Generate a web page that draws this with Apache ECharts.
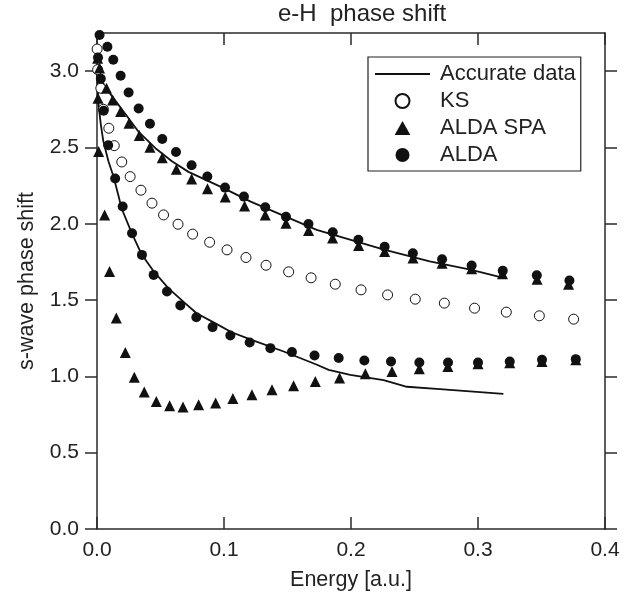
<!DOCTYPE html>
<html>
<head>
<meta charset="utf-8">
<script src="https://cdn.jsdelivr.net/npm/echarts@6/dist/echarts.min.js"></script>
<style>html,body{margin:0;padding:0;background:#fff}#c{width:639px;height:599px}</style>
</head>
<body>
<div id="c"></div>
<script>
// ---- data ----
const accUpperE = [0, 0.006, 0.02, 0.033, 0.046, 0.059, 0.072, 0.098, 0.121, 0.173, 0.226, 0.262, 0.294, 0.32];
const accUpperPhase = [3.02, 2.90, 2.745, 2.60, 2.495, 2.41, 2.34, 2.24, 2.145, 1.96, 1.83, 1.753, 1.70, 1.645];
const accLowerE = [0, 0.001, 0.003, 0.005, 0.009, 0.013, 0.017, 0.0194, 0.0273, 0.0351, 0.0443, 0.0561, 0.0693, 0.0784, 0.0929, 0.106, 0.1207, 0.147, 0.1732, 0.1824, 0.1994, 0.2257, 0.244, 0.27, 0.32];
const accLowerPhase = [3.0, 2.80, 2.65, 2.54, 2.41, 2.31, 2.18, 2.10, 1.94, 1.80, 1.692, 1.578, 1.48, 1.414, 1.349, 1.289, 1.243, 1.163, 1.076, 1.043, 1.01, 0.975, 0.932, 0.917, 0.886];

const ksE = [0.0001, 0.0005, 0.0030, 0.0050, 0.0093, 0.0136, 0.0195, 0.0261, 0.0346, 0.0433, 0.0524, 0.0638, 0.0753, 0.0887, 0.1024, 0.1173, 0.1331, 0.1509, 0.1686, 0.1876, 0.2079, 0.2288, 0.2506, 0.2735, 0.2973, 0.3223, 0.3483, 0.3753];
const ksPhase = [3.145, 3.01, 2.888, 2.75, 2.626, 2.512, 2.405, 2.309, 2.22, 2.135, 2.058, 1.997, 1.932, 1.879, 1.829, 1.779, 1.728, 1.685, 1.646, 1.604, 1.567, 1.534, 1.506, 1.48, 1.447, 1.421, 1.397, 1.375];

const spaUpperE = [0.0005, 0.0020, 0.0075, 0.0123, 0.0186, 0.0252, 0.0333, 0.0417, 0.0514, 0.0625, 0.0745, 0.0870, 0.1010, 0.1162, 0.1325, 0.1488, 0.1666, 0.1855, 0.2060, 0.2265, 0.2488, 0.2717, 0.2950, 0.3193, 0.3465, 0.3713];
const spaUpperPhase = [3.085, 3.02, 2.888, 2.811, 2.735, 2.659, 2.578, 2.502, 2.432, 2.358, 2.293, 2.23, 2.176, 2.117, 2.058, 2.004, 1.956, 1.906, 1.857, 1.818, 1.775, 1.742, 1.705, 1.672, 1.637, 1.604];
const spaLowerE = [0.0008, 0.0013, 0.0060, 0.0099, 0.0152, 0.0223, 0.0294, 0.0372, 0.0467, 0.0572, 0.0677, 0.0800, 0.0934, 0.1070, 0.1220, 0.1378, 0.1548, 0.1719, 0.1910, 0.2113, 0.2323, 0.2538, 0.2763, 0.3000, 0.3250, 0.3504, 0.3770];
const spaLowerPhase = [2.822, 2.473, 2.058, 1.687, 1.382, 1.157, 0.995, 0.897, 0.836, 0.807, 0.799, 0.814, 0.825, 0.855, 0.88, 0.912, 0.938, 0.966, 0.989, 1.017, 1.032, 1.05, 1.065, 1.083, 1.09, 1.098, 1.109];

const aldaUpperE = [0.0020, 0.0082, 0.0128, 0.0186, 0.0249, 0.0328, 0.0417, 0.0514, 0.0622, 0.0745, 0.0869, 0.1008, 0.1157, 0.1325, 0.1488, 0.1665, 0.1856, 0.2058, 0.2265, 0.2487, 0.2717, 0.2950, 0.3195, 0.3463, 0.3720];
const aldaUpperPhase = [3.237, 3.16, 3.075, 2.97, 2.86, 2.755, 2.655, 2.556, 2.47, 2.384, 2.31, 2.237, 2.178, 2.108, 2.046, 1.999, 1.944, 1.895, 1.849, 1.807, 1.768, 1.726, 1.692, 1.662, 1.628];
const aldaLowerE = [0.0008, 0.0030, 0.0052, 0.0088, 0.0143, 0.0202, 0.0276, 0.0354, 0.0446, 0.0551, 0.0656, 0.0782, 0.0910, 0.1050, 0.1202, 0.1365, 0.1535, 0.1713, 0.1903, 0.2105, 0.2315, 0.2538, 0.2764, 0.3000, 0.3250, 0.3504, 0.3770];
const aldaLowerPhase = [3.09, 2.95, 2.74, 2.515, 2.297, 2.113, 1.938, 1.796, 1.665, 1.556, 1.464, 1.388, 1.323, 1.268, 1.222, 1.185, 1.159, 1.137, 1.12, 1.104, 1.098, 1.091, 1.091, 1.091, 1.098, 1.109, 1.113];

const xTicks = [0, 0.1, 0.2, 0.3, 0.4];
const yTicks = [0, 0.5, 1.0, 1.5, 2.0, 2.5, 3.0];
const legendNames = ['Accurate data', 'KS', 'ALDA SPA', 'ALDA'];

// ---- build ----
const zip = (xs, ys) => xs.map((x, i) => [x, ys[i]]);
const FONT = 'Liberation Sans, Arial, Helvetica, sans-serif';
const INK = '#111';
const AX = '#2a2a2a';
const fmt = v => Number(v).toFixed(1);

const axisLine = {show: true, onZero: false, lineStyle: {color: AX, width: 1.5}};
const tickStyle = {color: AX, width: 1.5};

const legendIcons = {
  'Accurate data': 'path://M0,0 L55,0 L55,2 L0,2 Z',
  'KS': 'circle',
  'ALDA SPA': 'path://M7,0 L14,12.5 L0,12.5 Z',
  'ALDA': 'circle'
};

const option = {
  animation: false,
  backgroundColor: '#fff',
  title: {
    text: 'e-H  phase shift', left: 278, top: 2, padding: 0,
    textStyle: {fontFamily: FONT, fontSize: 24, fontWeight: 'normal', color: '#222'}
  },
  legend: {
    orient: 'vertical', left: 368, top: 57,
    padding: [6, 5, 5, 7], itemGap: 5, itemWidth: 55, itemHeight: 14,
    borderColor: '#222', borderWidth: 1.2, backgroundColor: '#fff',
    textStyle: {fontFamily: FONT, fontSize: 22, color: '#222', lineHeight: 21, padding: [0, 0, 0, 5]},
    data: legendNames.map(n => ({name: n, icon: legendIcons[n]}))
  },
  grid: {left: 97, right: 34, top: 33, bottom: 70, show: false},
  xAxis: [
    {
      type: 'value', min: xTicks[0], max: xTicks[xTicks.length - 1], interval: 0.1, position: 'bottom',
      axisLine: axisLine,
      axisTick: {inside: true, length: 12, lineStyle: tickStyle},
      axisLabel: {margin: 11, fontFamily: FONT, fontSize: 21, color: '#222', formatter: fmt},
      splitLine: {show: false},
      name: 'Energy [a.u.]', nameLocation: 'middle', nameGap: 40,
      nameTextStyle: {fontFamily: FONT, fontSize: 21.5, color: '#222'}
    },
    {
      type: 'value', min: xTicks[0], max: xTicks[xTicks.length - 1], interval: 0.1, position: 'top',
      axisLine: axisLine,
      axisTick: {inside: true, length: 12, lineStyle: tickStyle},
      axisLabel: {show: false}, splitLine: {show: false}
    }
  ],
  yAxis: [
    {
      type: 'value', min: 0, max: 3.25, position: 'left',
      axisLine: axisLine,
      axisTick: {inside: false, length: 12, lineStyle: tickStyle, customValues: yTicks},
      axisLabel: {margin: 18, fontFamily: FONT, fontSize: 21, color: '#222', formatter: fmt, customValues: yTicks},
      splitLine: {show: false},
      name: 's-wave phase shift', nameLocation: 'middle', nameGap: 59,
      nameTextStyle: {fontFamily: FONT, fontSize: 21.5, color: '#222'}
    },
    {
      type: 'value', min: 0, max: 3.25, position: 'right',
      axisLine: axisLine,
      axisTick: {inside: false, length: 12, lineStyle: tickStyle, customValues: yTicks},
      axisLabel: {show: false}, splitLine: {show: false}
    }
  ],
  series: [
    {
      name: 'Accurate data', type: 'line', data: zip(accUpperE, accUpperPhase),
      symbol: 'none', lineStyle: {color: INK, width: 1.8}, itemStyle: {color: INK}, z: 2
    },
    {
      name: 'Accurate data', type: 'line', data: zip(accLowerE, accLowerPhase),
      symbol: 'none', lineStyle: {color: INK, width: 1.8}, itemStyle: {color: INK}, z: 2
    },
    {
      name: 'KS', type: 'scatter', data: zip(ksE, ksPhase),
      symbol: 'circle', symbolSize: 10,
      itemStyle: {color: '#fff', borderColor: INK, borderWidth: 1, opacity: 1}, z: 3
    },
    {
      name: 'ALDA SPA', type: 'scatter',
      data: zip(spaUpperE, spaUpperPhase).concat(zip(spaLowerE, spaLowerPhase)),
      symbol: 'triangle', symbolSize: 11,
      itemStyle: {color: INK, opacity: 1}, z: 4
    },
    {
      name: 'ALDA', type: 'scatter',
      data: zip(aldaUpperE, aldaUpperPhase).concat(zip(aldaLowerE, aldaLowerPhase)),
      symbol: 'circle', symbolSize: 10,
      itemStyle: {color: INK, opacity: 1}, z: 5
    }
  ]
};

const chart = echarts.init(document.getElementById('c'), null, {renderer: 'canvas'});
chart.setOption(option);
</script>
</body>
</html>
